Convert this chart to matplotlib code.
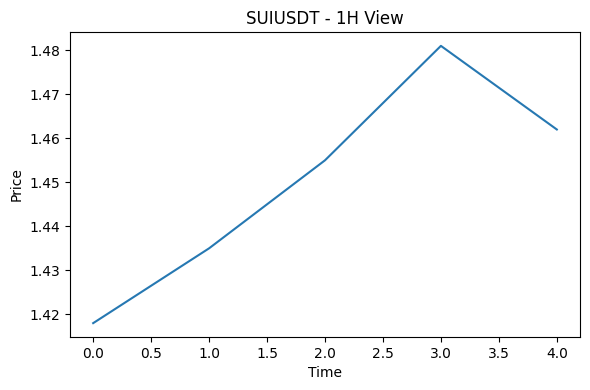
import matplotlib
matplotlib.use("Agg")
import matplotlib.pyplot as plt

# hourly closes
times = [0, 1, 2, 3, 4]
prices = [1.418, 1.435, 1.455, 1.481, 1.462]

fig, ax = plt.subplots(figsize=(5.9, 3.9), dpi=100)
ax.plot(times, prices, color="#2678b2")
ax.set_title("SUIUSDT - 1H View")
ax.set_xlabel("Time")
ax.set_ylabel("Price")
fig.subplots_adjust(left=70/590, right=580/590, top=1-32/390, bottom=1-337/390)
fig.savefig("out.png")
